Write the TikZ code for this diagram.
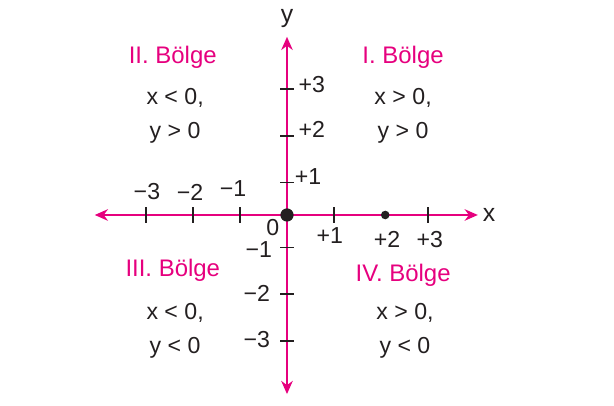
\documentclass[tikz,border=0pt]{standalone}
\usepackage{fontspec}
\setmainfont{Liberation Sans}
\usetikzlibrary{arrows.meta}
\definecolor{ejeMagenta}{HTML}{E6007E}
\definecolor{textoOscuro}{HTML}{231F20}

\tikzset{
  eje/.style={ejeMagenta, line width=1.1pt, {Stealth[length=8pt, width=7pt]}-{Stealth[length=8pt, width=7pt]}},
  marca/.style={textoOscuro, line width=0.7pt},
  etiq/.style={font=\fontsize{14}{15}\selectfont, text=textoOscuro, inner sep=0pt},
  bolge/.style={font=\fontsize{14.5}{16}\selectfont, text=ejeMagenta, inner sep=0pt}
}

\begin{document}
\begin{tikzpicture}
    \useasboundingbox (-6.106,-4.043) rectangle (6.957,4.574);

    % ejes
    \draw[eje] (-4.09,0) -- (4.06,0);
    \draw[eje] (0,-3.81) -- (0,3.79);
    \node[etiq, font=\fontsize{15}{16}\selectfont] (ejeX) at (4.30,0) {x};
    \node[etiq, font=\fontsize{15}{16}\selectfont] (ejeY) at (0,4.19) {y};

    % marcas de los ejes
    \foreach \x in {-3,-2,-1,1,3}
      \draw[marca] (\x,-0.16) -- (\x,0.16);
    \foreach \y in {-2.68,-1.68,-0.70,0.70,1.68,2.68}
      \draw[marca] (-0.14,\y) -- (0.14,\y);

    % puntos
    \fill[textoOscuro] (0,0) circle (4pt);
    \fill[textoOscuro] (2.09,0) circle (2.6pt);

    % etiquetas de x
    \node[etiq] (xm3) at (-2.98,0.49) {−3};
    \node[etiq] (xm2) at (-2.06,0.49) {−2};
    \node[etiq] (xm1) at (-1.15,0.57) {−1};
    \node[etiq] (cero) at (-0.30,-0.27) {0};
    \node[etiq] (xp1) at (0.91,-0.43) {+1};
    \node[etiq] (xp2) at (2.13,-0.53) {+2};
    \node[etiq] (xp3) at (3.04,-0.53) {+3};

    % etiquetas de y
    \node[etiq] (yp3) at (0.53,2.77) {+3};
    \node[etiq] (yp2) at (0.53,1.81) {+2};
    \node[etiq] (yp1) at (0.45,0.81) {+1};
    \node[etiq] (ym1) at (-0.60,-0.74) {−1};
    \node[etiq] (ym2) at (-0.64,-1.66) {−2};
    \node[etiq] (ym3) at (-0.64,-2.66) {−3};

    % bolgeler
    \node[bolge] (b2) at (-2.43,3.36) {II. Bölge};
    \node[etiq] (b2x) at (-2.38,2.49) {x < 0,};
    \node[etiq] (b2y) at (-2.38,1.74) {y > 0};

    \node[bolge] (b1) at (2.47,3.36) {I. Bölge};
    \node[etiq] (b1x) at (2.47,2.49) {x > 0,};
    \node[etiq] (b1y) at (2.47,1.74) {y > 0};

    \node[bolge] (b3) at (-2.43,-1.17) {III. Bölge};
    \node[etiq] (b3x) at (-2.38,-2.09) {x < 0,};
    \node[etiq] (b3y) at (-2.38,-2.83) {y < 0};

    \node[bolge] (b4) at (2.47,-1.28) {IV. Bölge};
    \node[etiq] (b4x) at (2.51,-2.09) {x > 0,};
    \node[etiq] (b4y) at (2.51,-2.83) {y < 0};
  \end{tikzpicture}
\end{document}
